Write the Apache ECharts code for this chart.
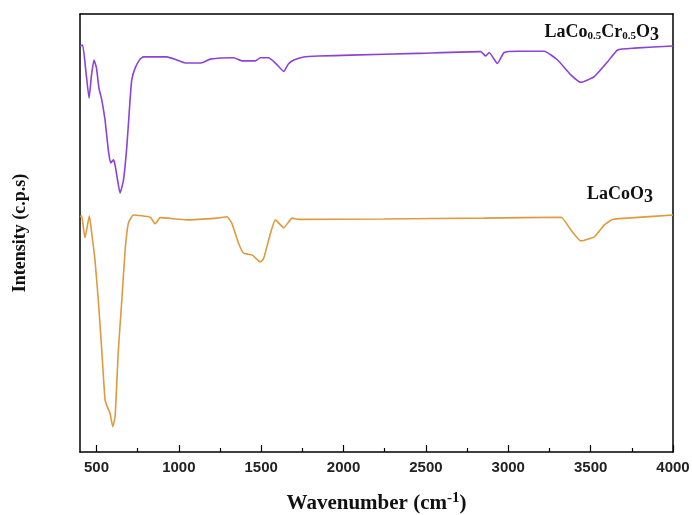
<!DOCTYPE html>
<html>
<head>
<meta charset="utf-8">
<script src="https://cdn.jsdelivr.net/npm/echarts@6/dist/echarts.min.js"></script>
<style>
  html, body { margin: 0; padding: 0; background: #fff; }
  #chart { width: 692px; height: 515px; }
</style>
</head>
<body>
<div id="chart"></div>
<script>
// FTIR spectra, intensity in arbitrary units (0-100 across the plot height)
const wnCr = [400, 416, 435, 455, 470, 485, 500, 515, 532, 552, 572, 586, 603, 613, 628, 643, 664, 684, 704, 714, 735, 765, 785, 927, 988, 1039, 1118, 1150, 1191, 1332, 1383, 1464, 1495, 1545, 1586, 1637, 1665, 1698, 1758, 1849, 2042, 2448, 2833, 2863, 2884, 2934, 2975, 3056, 3218, 3299, 3380, 3441, 3522, 3603, 3664, 3765, 4000];
const intCr = [92.7, 92.9, 87.2, 80.8, 86.1, 89.5, 87.7, 83.1, 80.4, 75.8, 68.9, 66.0, 66.7, 65.5, 62.1, 59.1, 62.1, 69.6, 80.4, 84.9, 87.7, 89.7, 90.2, 90.2, 89.5, 88.8, 88.8, 89.0, 89.7, 90.0, 89.3, 89.3, 90.0, 90.0, 88.8, 86.9, 88.6, 89.5, 90.2, 90.4, 90.6, 91.0, 91.4, 90.4, 91.2, 88.7, 91.2, 91.5, 91.5, 89.5, 86.1, 84.4, 85.7, 89.1, 91.8, 92.2, 92.7];

const wnCo = [400, 410, 430, 457, 471, 491, 511, 532, 552, 566, 582, 599, 613, 633, 654, 674, 694, 724, 826, 856, 887, 1049, 1231, 1292, 1322, 1363, 1393, 1444, 1495, 1515, 1556, 1586, 1637, 1688, 1728, 2245, 2853, 3320, 3380, 3441, 3522, 3582, 3633, 3765, 4000];
const intCo = [53.7, 53.9, 48.9, 53.9, 50.0, 43.8, 34.7, 23.3, 11.9, 10.3, 8.9, 5.8, 8.1, 23.3, 34.7, 46.1, 52.3, 54.1, 53.6, 52.1, 53.5, 53.0, 53.4, 53.7, 52.2, 47.6, 45.4, 45.0, 43.4, 44.2, 49.9, 53.0, 51.2, 53.4, 53.1, 53.2, 53.4, 53.6, 50.7, 48.2, 49.1, 51.8, 53.1, 53.5, 54.1];

const majorTicks = [500, 1000, 1500, 2000, 2500, 3000, 3500, 4000];
const minorTicks = [750, 1250, 1750, 2250, 2750, 3250, 3750];

const zip = (xs, ys) => xs.map((x, i) => [x, ys[i]]);

const chart = echarts.init(document.getElementById('chart'));

const serif = '"Liberation Serif", "Times New Roman", serif';
const sans = '"Liberation Sans", Arial, sans-serif';

const option = {
  backgroundColor: '#fff',
  animation: false,
  grid: { left: 80, right: 19, top: 14, bottom: 63, outerBoundsMode: 'none', containLabel: false },
  xAxis: [{
    type: 'value', min: 400, max: 4000, position: 'bottom',
    name: 'Wavenumber (cm{sup|-1})', nameLocation: 'middle', nameGap: 39,
    nameTextStyle: {
      fontFamily: serif, fontWeight: 'bold', fontSize: 21, color: '#111',
      rich: { sup: { fontFamily: serif, fontWeight: 'bold', fontSize: 15, color: '#111', padding: [0, 0, 10, 0] } }
    },
    axisLine: { lineStyle: { color: '#000', width: 1.5 } },
    axisTick: { inside: true, length: 7, customValues: majorTicks, lineStyle: { color: '#000', width: 1.2 } },
    axisLabel: {
      customValues: majorTicks, formatter: v => String(v),
      fontFamily: sans, fontWeight: 'bold', fontSize: 15, color: '#222', margin: 8
    },
    splitLine: { show: false }
  }, {
    type: 'value', min: 400, max: 4000, position: 'bottom', gridIndex: 0,
    axisLine: { show: false },
    axisTick: { inside: true, length: 4, customValues: minorTicks, lineStyle: { color: '#000', width: 1.2 } },
    axisLabel: { show: false },
    splitLine: { show: false }
  }, {
    type: 'value', min: 400, max: 4000, position: 'top',
    axisLine: { onZero: false, lineStyle: { color: '#000', width: 1.5 } },
    axisTick: { show: false }, axisLabel: { show: false }, splitLine: { show: false }
  }],
  yAxis: [{
    type: 'value', min: 0, max: 100, position: 'left',
    name: 'Intensity (c.p.s)', nameLocation: 'middle', nameGap: 51, nameRotate: 90,
    nameTextStyle: { fontFamily: serif, fontWeight: 'bold', fontSize: 18, color: '#111' },
    axisLine: { show: true, onZero: false, lineStyle: { color: '#000', width: 1.5 } },
    axisTick: { show: false }, axisLabel: { show: false }, splitLine: { show: false }
  }, {
    type: 'value', min: 0, max: 100, position: 'right',
    axisLine: { show: true, onZero: false, lineStyle: { color: '#000', width: 1.5 } },
    axisTick: { show: false }, axisLabel: { show: false }, splitLine: { show: false }
  }],
  series: [{
    name: 'LaCo0.5Cr0.5O3', type: 'line', xAxisIndex: 0, yAxisIndex: 0,
    data: zip(wnCr, intCr), showSymbol: false, smooth: 0.15,
    lineStyle: { color: '#8a43d6', width: 1.6 }
  }, {
    name: 'LaCoO3', type: 'line', xAxisIndex: 0, yAxisIndex: 0,
    data: zip(wnCo, intCo), showSymbol: false, smooth: 0.15,
    lineStyle: { color: '#df9a3e', width: 1.6 }
  }],
  graphic: [{
    type: 'text', right: 33, top: 23,
    style: {
      text: 'LaCo{sub|0.5}Cr{sub|0.5}O{big|3}',
      fontFamily: serif, fontWeight: 'bold', fontSize: 18, fill: '#111',
      rich: {
        sub: { fontFamily: serif, fontWeight: 'bold', fontSize: 11, fill: '#111', padding: [8, 0, 0, 0] },
        big: { fontFamily: serif, fontWeight: 'bold', fontSize: 18, fill: '#111', padding: [7, 0, 0, 0] }
      }
    }
  }, {
    type: 'text', right: 39, top: 185,
    style: {
      text: 'LaCoO{big|3}',
      fontFamily: serif, fontWeight: 'bold', fontSize: 18, fill: '#111',
      rich: {
        big: { fontFamily: serif, fontWeight: 'bold', fontSize: 18, fill: '#111', padding: [7, 0, 0, 0] }
      }
    }
  }]
};

chart.setOption(option);
</script>
</body>
</html>
